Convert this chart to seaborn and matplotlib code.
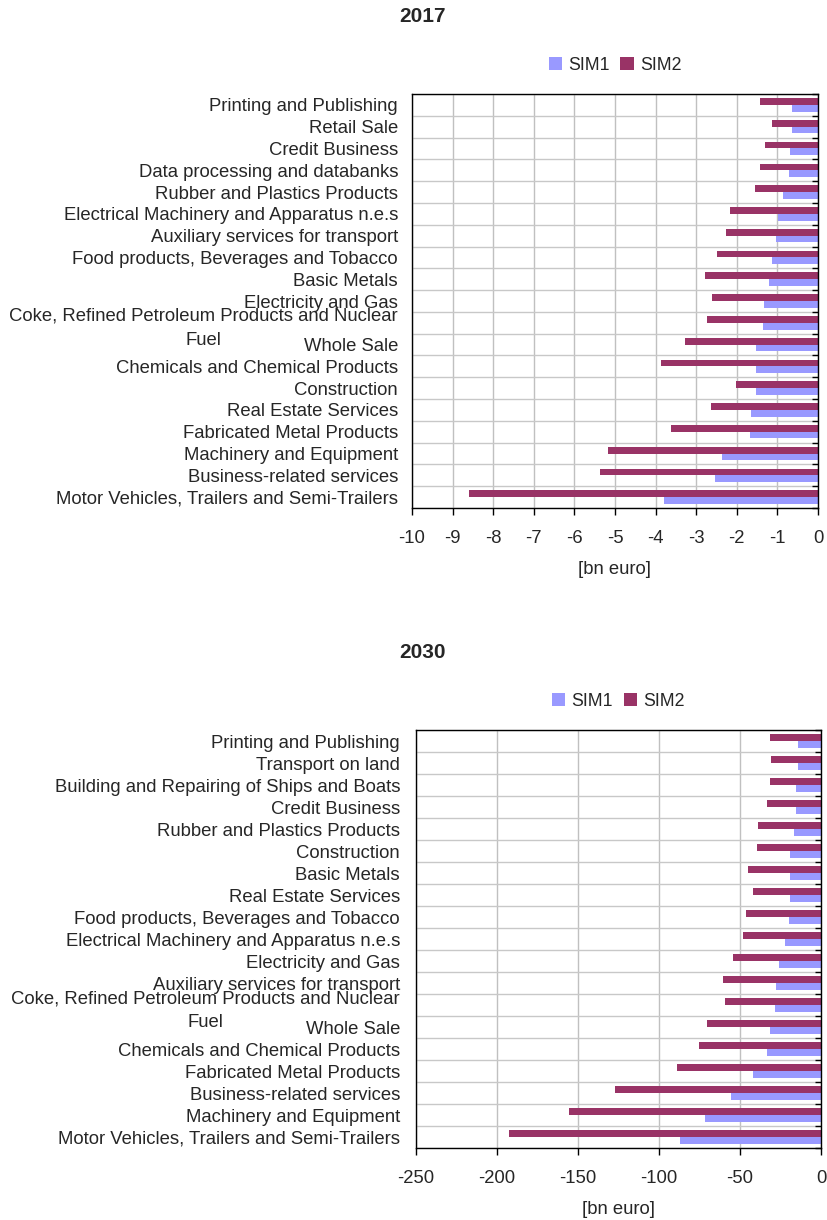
import matplotlib
matplotlib.use("Agg")
import matplotlib.pyplot as plt
import seaborn as sns
import pandas as pd
import numpy as np
from matplotlib.patches import Patch

# ---------------- data ----------------
sectors_2017 = [
    "Printing and Publishing",
    "Retail Sale",
    "Credit Business",
    "Data processing and databanks",
    "Rubber and Plastics Products",
    "Electrical Machinery and Apparatus n.e.s",
    "Auxiliary services for transport",
    "Food products, Beverages and Tobacco",
    "Basic Metals",
    "Electricity and Gas",
    "Coke, Refined Petroleum Products and Nuclear\nFuel",
    "Whole Sale",
    "Chemicals and Chemical Products",
    "Construction",
    "Real Estate Services",
    "Fabricated Metal Products",
    "Machinery and Equipment",
    "Business-related services",
    "Motor Vehicles, Trailers and Semi-Trailers",
]
sim1_2017 = [-0.64, -0.64, -0.69, -0.71, -0.86, -0.99, -1.04, -1.13, -1.21, -1.33,
             -1.36, -1.53, -1.53, -1.53, -1.65, -1.68, -2.37, -2.54, -3.80]
sim2_2017 = [-1.43, -1.13, -1.31, -1.43, -1.55, -2.17, -2.27, -2.49, -2.79, -2.61,
             -2.74, -3.28, -3.87, -2.02, -2.64, -3.62, -5.18, -5.37, -8.60]

sectors_2030 = [
    "Printing and Publishing",
    "Transport on land",
    "Building and Repairing of Ships and Boats",
    "Credit Business",
    "Rubber and Plastics Products",
    "Construction",
    "Basic Metals",
    "Real Estate Services",
    "Food products, Beverages and Tobacco",
    "Electrical Machinery and Apparatus n.e.s",
    "Electricity and Gas",
    "Auxiliary services for transport",
    "Coke, Refined Petroleum Products and Nuclear\nFuel",
    "Whole Sale",
    "Chemicals and Chemical Products",
    "Fabricated Metal Products",
    "Business-related services",
    "Machinery and Equipment",
    "Motor Vehicles, Trailers and Semi-Trailers",
]
sim1_2030 = [-14.2, -14.2, -15.4, -15.4, -16.7, -19.1, -19.1, -19.1, -19.7, -22.2,
             -25.9, -27.8, -28.4, -31.5, -33.3, -41.9, -55.5, -71.5, -87.0]
sim2_2030 = [-31.5, -30.8, -31.5, -33.3, -38.9, -39.5, -45.0, -41.9, -46.3, -48.1,
             -54.3, -60.4, -59.2, -70.3, -75.2, -88.8, -127.1, -155.4, -192.4]

xticks_2017 = list(range(-10, 1, 1))
xticks_2030 = list(range(-250, 1, 50))
series_names = ["SIM1", "SIM2"]
colors = {"SIM1": "#9999FF", "SIM2": "#993366"}

# ---------------- style ----------------
sns.set_style("white")
plt.rcParams["font.family"] = ["Liberation Sans", "DejaVu Sans"]

W, H = 827, 1220
fig = plt.figure(figsize=(W / 100, H / 100), dpi=100)

LABEL_FS = 13.3


def long_df(sectors, s1, s2):
    return pd.DataFrame({
        "sector": sectors * 2,
        "scenario": ["SIM1"] * len(sectors) + ["SIM2"] * len(sectors),
        "value": list(s1) + list(s2),
    })


def make_panel(rect_px, sectors, s1, s2, xticks, title, title_y, legend_y, ypad):
    left, top, right, bottom = rect_px
    ax = fig.add_axes([left / W, 1 - bottom / H, (right - left) / W, (bottom - top) / H])
    df = long_df(sectors, s1, s2)
    sns.barplot(data=df, y="sector", x="value", hue="scenario",
                order=sectors, hue_order=["SIM2", "SIM1"], palette=colors,
                orient="h", width=0.62, saturation=1, errorbar=None,
                legend=False, linewidth=0, edgecolor="none", ax=ax)
    n = len(sectors)
    ax.set_xlim(xticks[0], xticks[-1])
    ax.set_xticks(xticks)
    ax.set_xticklabels([str(t) for t in xticks])
    ax.set_ylim(n - 0.5, -0.5)
    ax.set_yticks(range(n))
    ax.set_yticklabels(sectors)
    for lbl in ax.get_yticklabels():
        lbl.set_multialignment("center")
        if "\n" in lbl.get_text():
            lbl.set_linespacing(1.55)
    ax.set_yticks(np.arange(-0.5, n, 1), minor=True)

    ax.set_axisbelow(True)
    ax.xaxis.grid(True, which="major", color="#c0c0c0", lw=1)
    ax.yaxis.grid(True, which="minor", color="#c8c8c8", lw=1)
    ax.yaxis.grid(False, which="major")

    ax.tick_params(axis="y", which="major", length=0, pad=ypad, labelsize=LABEL_FS)
    ax.tick_params(axis="y", which="minor", left=False, right=True, direction="in",
                   length=4.5, width=1, color="black")
    ax.tick_params(axis="x", which="major", bottom=True, direction="out", length=4.8,
                   width=1, color="black", pad=11, labelsize=LABEL_FS)
    ax.set_xlabel("[bn euro]", fontsize=LABEL_FS, labelpad=10)
    ax.set_ylabel("")
    for sp in ax.spines.values():
        sp.set_visible(True)
        sp.set_color("black")
        sp.set_linewidth(1)

    fig.text(423 / W, 1 - title_y / H, title, ha="center", va="center",
             fontsize=15, fontweight="bold")
    handles = [Patch(facecolor=colors[s], edgecolor="none", label=s) for s in series_names]
    fig.legend(handles=handles, loc="center",
               bbox_to_anchor=((left + right) / 2 / W, 1 - legend_y / H),
               ncol=2, frameon=False, fontsize=12.8, handlelength=0.75,
               handleheight=0.75, handletextpad=0.35, columnspacing=0.6,
               borderpad=0, borderaxespad=0)
    return ax


make_panel((412, 94, 818, 508), sectors_2017, sim1_2017, sim2_2017, xticks_2017,
           "2017", 16, 65, 10)
make_panel((416, 730, 821, 1148), sectors_2030, sim1_2030, sim2_2030, xticks_2030,
           "2030", 653, 701, 11.5)

fig.savefig("out.png", dpi=100)
